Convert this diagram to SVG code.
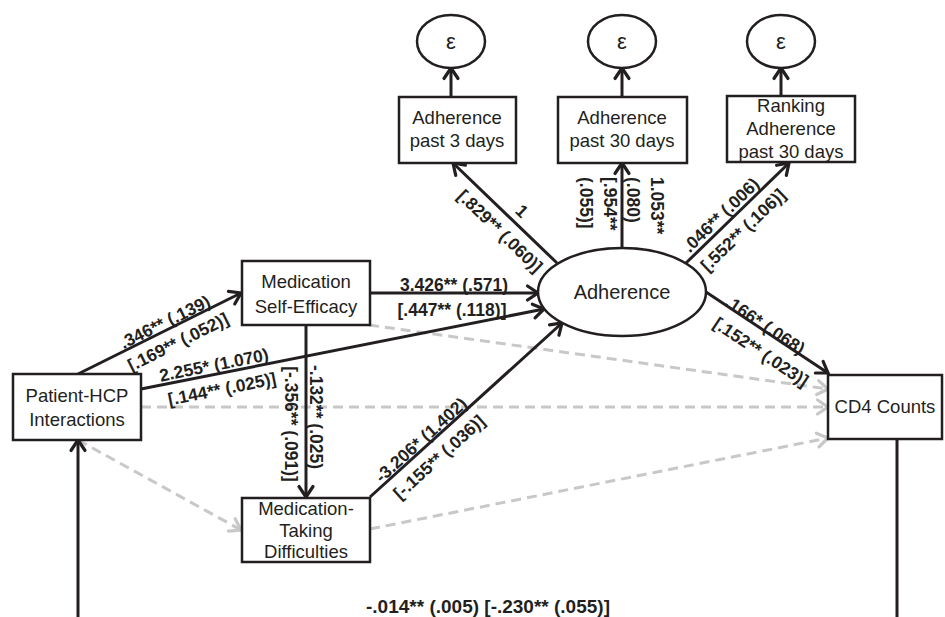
<svg xmlns="http://www.w3.org/2000/svg" width="945" height="617" viewBox="0 0 945 617">
<defs>
<marker id="ab" markerUnits="userSpaceOnUse" markerWidth="16" markerHeight="16" refX="12" refY="8" orient="auto" overflow="visible">
<path d="M1.5,1 L12,8 L1.5,15" fill="none" stroke="#231f20" stroke-width="3.2" stroke-linejoin="miter" stroke-linecap="round"/>
</marker>
<marker id="ag" markerUnits="userSpaceOnUse" markerWidth="16" markerHeight="16" refX="12" refY="8" orient="auto" overflow="visible">
<path d="M1.5,1 L12,8 L1.5,15" fill="none" stroke="#c8c8c8" stroke-width="3.2" stroke-linejoin="miter" stroke-linecap="round"/>
</marker>
</defs>
<style>
.box{fill:#fff;stroke:#231f20;stroke-width:2.5}
.nt{font-family:"Liberation Sans",Arial,sans-serif;font-size:18.5px;fill:#231f20;text-anchor:middle}
.sl{fill:none;stroke:#231f20;stroke-width:3}
.dl{fill:none;stroke:#c8c8c8;stroke-width:3;stroke-dasharray:10 6}
.lb{font-family:"Liberation Sans",Arial,sans-serif;font-size:17.5px;font-weight:bold;fill:#231f20;text-anchor:middle}
</style>
<rect width="945" height="617" fill="#fff"/>
<g id="connectors">
<path class="dl" d="M369,325 L828,389" marker-end="url(#ag)"/>
<path class="dl" d="M141,407 L828,407" marker-end="url(#ag)"/>
<path class="dl" d="M370,529 L828,438" marker-end="url(#ag)"/>
<path class="dl" d="M78,440 L241,530" marker-end="url(#ag)"/>
<path class="sl" d="M78,374 L241,293" marker-end="url(#ab)"/>
<path class="sl" d="M141,389 L544,309" marker-end="url(#ab)"/>
<path class="sl" d="M370,293 L538,293" marker-end="url(#ab)"/>
<path class="sl" d="M306,325 L306,497" marker-end="url(#ab)"/>
<path class="sl" d="M370,497 L562,323" marker-end="url(#ab)"/>
<path class="sl" d="M706,292 L828,373" marker-end="url(#ab)"/>
<path class="sl" d="M557,263 L453,163" marker-end="url(#ab)"/>
<path class="sl" d="M622,248 L622,163" marker-end="url(#ab)"/>
<path class="sl" d="M686,263 L789,163" marker-end="url(#ab)"/>
<path class="sl" d="M451,97 L451,68" marker-end="url(#ab)"/>
<path class="sl" d="M622,97 L622,68" marker-end="url(#ab)"/>
<path class="sl" d="M781,96 L781,68" marker-end="url(#ab)"/>
<path class="sl" d="M78,617 L78,440" marker-end="url(#ab)"/>
<path class="sl" d="M897,440 L897,617"/>
</g>
<g id="labels">
<text class="lb" transform="translate(165,322) rotate(-26.3)" y="6">.346** (.139)</text>
<text class="lb" transform="translate(178,342) rotate(-26.3)" y="6">[.169** (.052)]</text>
<text class="lb" transform="translate(214,365) rotate(-11.2)" y="6">2.255* (1.070)</text>
<text class="lb" transform="translate(222,389) rotate(-11.2)" y="6">[.144** (.025)]</text>
<text class="lb" x="454" y="291">3.426** (.571)</text>
<text class="lb" x="452" y="316">[.447** (.118)]</text>
<text class="lb" transform="translate(316,417) rotate(90)" y="6">-.132** (.025)</text>
<text class="lb" transform="translate(291,424) rotate(90)" y="6">[-.356** (.091)]</text>
<text class="lb" transform="translate(421,440) rotate(-42)" y="6">-3.206* (1.402)</text>
<text class="lb" transform="translate(439,457) rotate(-42)" y="6">[-.155** (.036)]</text>
<text class="lb" transform="translate(522,211) rotate(44)" y="6">1</text>
<text class="lb" transform="translate(500,231) rotate(44)" y="6">[.829** (.060)]</text>
<text class="lb" transform="translate(657,177) rotate(90)" y="6" style="text-anchor:start">1.053**</text>
<text class="lb" transform="translate(633,177) rotate(90)" y="6" style="text-anchor:start">(.080)</text>
<text class="lb" transform="translate(610,177) rotate(90)" y="6" style="text-anchor:start">[.954**</text>
<text class="lb" transform="translate(586,177) rotate(90)" y="6" style="text-anchor:start">(.055)]</text>
<text class="lb" transform="translate(721,215) rotate(-44)" y="6">.046** (.006)</text>
<text class="lb" transform="translate(743,230) rotate(-44)" y="6">[.552** (.106)]</text>
<text class="lb" transform="translate(765,325) rotate(33.6)" y="6">.166* (.068)</text>
<text class="lb" transform="translate(761,352) rotate(33.6)" y="6">[.152** (.023)]</text>
<text class="lb" x="488" y="613" style="font-size:19px">-.014** (.005) [-.230** (.055)]</text>
</g>
<g id="e1"><ellipse class="box" cx="451" cy="41.5" rx="34" ry="26.5"/><text class="nt" x="451" y="49" style="font-size:22px">ε</text></g>
<g id="e2"><ellipse class="box" cx="622" cy="41.5" rx="34" ry="26.5"/><text class="nt" x="622" y="49" style="font-size:22px">ε</text></g>
<g id="e3"><ellipse class="box" cx="781" cy="41.5" rx="34" ry="26.5"/><text class="nt" x="781" y="49" style="font-size:22px">ε</text></g>
<g id="adh3"><rect class="box" x="399" y="97" width="117" height="66"/><text class="nt" x="457" y="124">Adherence</text><text class="nt" x="457" y="147">past 3 days</text></g>
<g id="adh30"><rect class="box" x="558" y="97" width="129" height="66"/><text class="nt" x="622" y="124">Adherence</text><text class="nt" x="622" y="147">past 30 days</text></g>
<g id="rank30"><rect class="box" x="727" y="96" width="128" height="66"/><text class="nt" x="791" y="112">Ranking</text><text class="nt" x="791" y="135">Adherence</text><text class="nt" x="791" y="158">past 30 days</text></g>
<g id="adherence"><ellipse class="box" cx="622" cy="292" rx="84" ry="44"/><text class="nt" x="622" y="299" style="font-size:20px">Adherence</text></g>
<g id="mse"><rect class="box" x="242" y="261" width="128" height="64"/><text class="nt" x="306" y="288">Medication</text><text class="nt" x="306" y="313">Self-Efficacy</text></g>
<g id="phcp"><rect class="box" x="13" y="374" width="128" height="66"/><text class="nt" x="77" y="402">Patient-HCP</text><text class="nt" x="77" y="426">Interactions</text></g>
<g id="mtd"><rect class="box" x="242" y="498" width="128" height="64"/><text class="nt" x="306" y="515">Medication-</text><text class="nt" x="306" y="537">Taking</text><text class="nt" x="306" y="558">Difficulties</text></g>
<g id="cd4"><rect class="box" x="828" y="375" width="114" height="64"/><text class="nt" x="885" y="413">CD4 Counts</text></g>
</svg>
